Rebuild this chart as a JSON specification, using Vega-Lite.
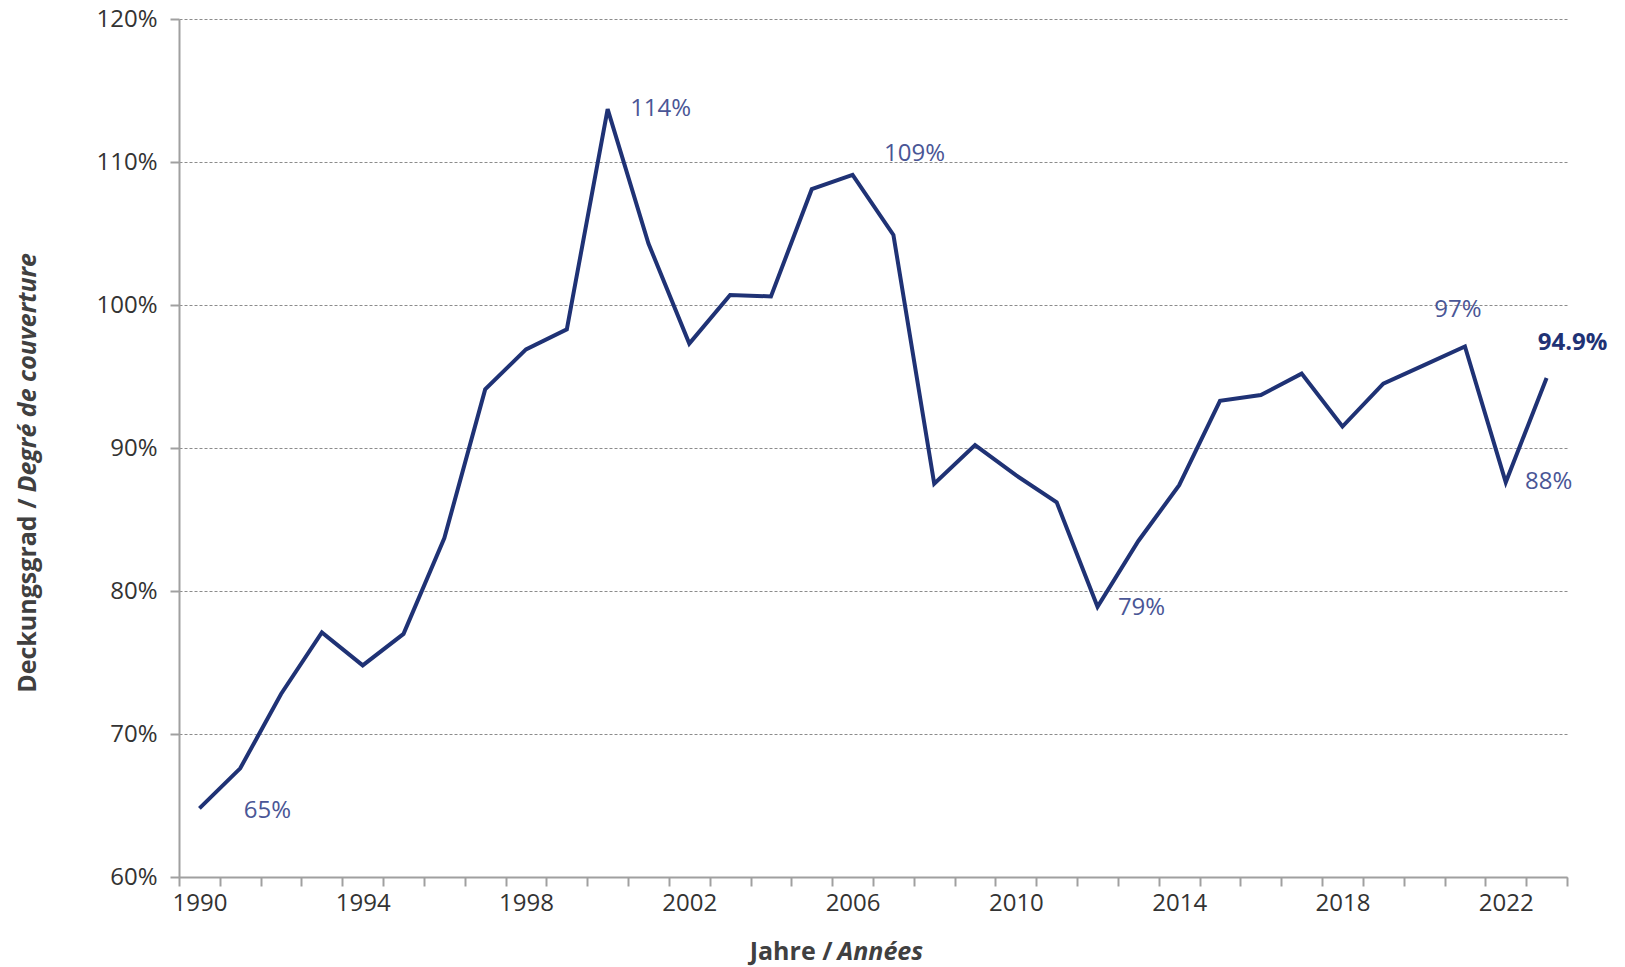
{
  "$schema": "https://vega.github.io/schema/vega-lite/v6.json",
  "width": 1388,
  "height": 858,
  "autosize": {"type": "none"},
  "padding": {"left": 179, "top": 19, "right": 58, "bottom": 90},
  "background": "white",
  "config": {"view": {"stroke": null}, "font": "Open Sans"},
  "data": {
    "values": [
      {"year": 1990, "value": 64.8, "label": "65%"},
      {"year": 1991, "value": 67.6},
      {"year": 1992, "value": 72.8},
      {"year": 1993, "value": 77.1},
      {"year": 1994, "value": 74.8},
      {"year": 1995, "value": 77.0},
      {"year": 1996, "value": 83.7},
      {"year": 1997, "value": 94.1},
      {"year": 1998, "value": 96.9},
      {"year": 1999, "value": 98.3},
      {"year": 2000, "value": 113.7, "label": "114%"},
      {"year": 2001, "value": 104.3},
      {"year": 2002, "value": 97.3},
      {"year": 2003, "value": 100.7},
      {"year": 2004, "value": 100.6},
      {"year": 2005, "value": 108.1},
      {"year": 2006, "value": 109.1, "label": "109%"},
      {"year": 2007, "value": 104.9},
      {"year": 2008, "value": 87.5},
      {"year": 2009, "value": 90.2},
      {"year": 2010, "value": 88.1},
      {"year": 2011, "value": 86.2},
      {"year": 2012, "value": 78.9, "label": "79%"},
      {"year": 2013, "value": 83.5},
      {"year": 2014, "value": 87.4},
      {"year": 2015, "value": 93.3},
      {"year": 2016, "value": 93.7},
      {"year": 2017, "value": 95.2},
      {"year": 2018, "value": 91.5},
      {"year": 2019, "value": 94.5},
      {"year": 2020, "value": 95.8},
      {"year": 2021, "value": 97.1, "label": "97%"},
      {"year": 2022, "value": 87.6, "label": "88%"},
      {"year": 2023, "value": 94.9, "label": "94.9%"}
    ]
  },
  "layer": [
    {
      "mark": {"type": "line", "color": "#1f3275", "strokeWidth": 4, "strokeJoin": "miter"},
      "encoding": {
        "x": {
          "field": "year", "type": "quantitative",
          "scale": {"domain": [1989.5, 2023.5], "nice": false, "zero": false},
          "axis": {
            "orient": "bottom",
            "values": [1989.5, 1990.5, 1991.5, 1992.5, 1993.5, 1994.5, 1995.5, 1996.5, 1997.5, 1998.5, 1999.5, 2000.5, 2001.5, 2002.5, 2003.5, 2004.5, 2005.5, 2006.5, 2007.5, 2008.5, 2009.5, 2010.5, 2011.5, 2012.5, 2013.5, 2014.5, 2015.5, 2016.5, 2017.5, 2018.5, 2019.5, 2020.5, 2021.5, 2022.5, 2023.5],
            "labelExpr": "((datum.value + 0.5) % 4 == 2) ? toString(datum.value + 0.5) : ''",
            "labelOffset": 20.4,
            "labelOverlap": false,
            "labelBound": false,
            "labelFlush": false,
            "labelFont": "Open Sans",
            "labelFontSize": 24,
            "labelColor": "#333333",
            "labelPadding": 5,
            "tickSize": 9,
            "tickColor": "#a0a0a0",
            "tickWidth": 2,
            "domainColor": "#a0a0a0",
            "domainWidth": 2,
            "grid": false,
            "title": "Jahre /",
            "titleFont": "Open Sans",
            "titleFontSize": 25,
            "titleFontWeight": "bold",
            "titleColor": "#404040",
            "titleAlign": "right",
            "titleBaseline": "alphabetic",
            "titleX": 653,
            "titleY": 82
          }
        },
        "y": {
          "field": "value", "type": "quantitative",
          "scale": {"domain": [60, 120], "nice": false, "zero": false},
          "axis": {
            "orient": "left",
            "values": [60, 70, 80, 90, 100, 110, 120],
            "labelExpr": "datum.value + '%'",
            "labelFont": "Open Sans",
            "labelFontSize": 24,
            "labelColor": "#333333",
            "labelPadding": 13,
            "tickSize": 9,
            "tickColor": "#a0a0a0",
            "tickWidth": 2,
            "domainColor": "#a0a0a0",
            "domainWidth": 2,
            "grid": true,
            "gridColor": "#8c8c8c",
            "gridDash": [3, 2],
            "gridWidth": 1,
            "title": "Deckungsgrad /",
            "titleFont": "Open Sans",
            "titleFontSize": 25,
            "titleFontWeight": "bold",
            "titleColor": "#404040",
            "titleAngle": -90,
            "titleAlign": "right",
            "titleBaseline": "alphabetic",
            "titleX": -144,
            "titleY": 479
          }
        }
      }
    },
    {
      "transform": [{"filter": "datum.year == 1990"}],
      "mark": {"type": "text", "font": "Open Sans", "fontSize": 24, "color": "#4a5696", "align": "center", "baseline": "middle", "dx": 68, "dy": 3},
      "encoding": {
        "x": {
          "field": "year", "type": "quantitative",
          "axis": {
            "orient": "top", "labels": false, "ticks": false, "domain": false, "grid": false,
            "title": "Années", "titleFont": "Open Sans", "titleFontSize": 25, "titleFontWeight": "bold", "titleFontStyle": "italic",
            "titleColor": "#404040", "titleAlign": "left", "titleBaseline": "alphabetic", "titleX": 658, "titleY": 940
          }
        },
        "y": {
          "field": "value", "type": "quantitative",
          "axis": {
            "orient": "right", "labels": false, "ticks": false, "domain": false, "grid": false,
            "title": "Degré de couverture", "titleFont": "Open Sans", "titleFontSize": 25, "titleFontWeight": "bold", "titleFontStyle": "italic",
            "titleColor": "#404040", "titleAngle": -90, "titleAlign": "left", "titleBaseline": "alphabetic", "titleX": -1532, "titleY": 473
          }
        },
        "text": {"field": "label"}
      }
    },
    {
      "transform": [{"filter": "datum.year == 2000"}],
      "mark": {"type": "text", "font": "Open Sans", "fontSize": 24, "color": "#4a5696", "align": "center", "baseline": "middle", "dx": 53, "dy": 0},
      "encoding": {
        "x": {"field": "year", "type": "quantitative", "axis": null},
        "y": {"field": "value", "type": "quantitative", "axis": null},
        "text": {"field": "label"}
      }
    },
    {
      "transform": [{"filter": "datum.year == 2006"}],
      "mark": {"type": "text", "font": "Open Sans", "fontSize": 24, "color": "#4a5696", "align": "center", "baseline": "middle", "dx": 62, "dy": -21},
      "encoding": {
        "x": {"field": "year", "type": "quantitative", "axis": null},
        "y": {"field": "value", "type": "quantitative", "axis": null},
        "text": {"field": "label"}
      }
    },
    {
      "transform": [{"filter": "datum.year == 2012"}],
      "mark": {"type": "text", "font": "Open Sans", "fontSize": 24, "color": "#4a5696", "align": "center", "baseline": "middle", "dx": 44, "dy": 1},
      "encoding": {
        "x": {"field": "year", "type": "quantitative", "axis": null},
        "y": {"field": "value", "type": "quantitative", "axis": null},
        "text": {"field": "label"}
      }
    },
    {
      "transform": [{"filter": "datum.year == 2021"}],
      "mark": {"type": "text", "font": "Open Sans", "fontSize": 24, "color": "#4a5696", "align": "center", "baseline": "middle", "dx": -7, "dy": -36},
      "encoding": {
        "x": {"field": "year", "type": "quantitative", "axis": null},
        "y": {"field": "value", "type": "quantitative", "axis": null},
        "text": {"field": "label"}
      }
    },
    {
      "transform": [{"filter": "datum.year == 2022"}],
      "mark": {"type": "text", "font": "Open Sans", "fontSize": 24, "color": "#4a5696", "align": "center", "baseline": "middle", "dx": 43, "dy": 0},
      "encoding": {
        "x": {"field": "year", "type": "quantitative", "axis": null},
        "y": {"field": "value", "type": "quantitative", "axis": null},
        "text": {"field": "label"}
      }
    },
    {
      "transform": [{"filter": "datum.year == 2023"}],
      "mark": {"type": "text", "font": "Open Sans", "fontSize": 24, "fontWeight": "bold", "color": "#1f3275", "align": "center", "baseline": "middle", "dx": 26, "dy": -35},
      "encoding": {
        "x": {"field": "year", "type": "quantitative", "axis": null},
        "y": {"field": "value", "type": "quantitative", "axis": null},
        "text": {"field": "label"}
      }
    }
  ],
  "resolve": {"axis": {"x": "independent", "y": "independent"}}
}
